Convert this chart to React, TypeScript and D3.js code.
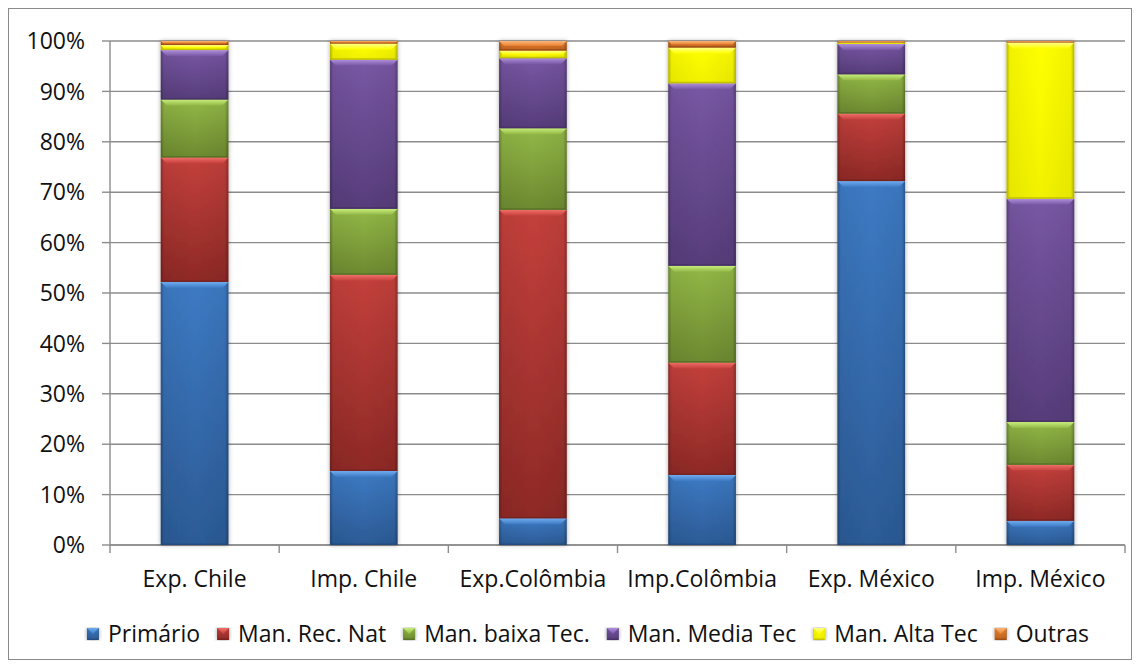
import React from "react";
import * as d3 from "d3";

// Export / import composition by technology intensity (share of total, %)
const categories = ["Exp. Chile", "Imp. Chile", "Exp.Colômbia", "Imp.Colômbia", "Exp. México", "Imp. México"];
const seriesNames = ["Primário", "Man. Rec. Nat", "Man. baixa Tec.", "Man. Media Tec", "Man. Alta Tec", "Outras"];

const primario = [52.2, 14.7, 5.3, 13.9, 72.2, 4.8];
const recNat = [24.7, 38.9, 61.2, 22.3, 13.4, 11.1];
const baixaTec = [11.5, 13.1, 16.2, 19.2, 7.8, 8.5];
const mediaTec = [9.8, 29.6, 13.9, 36.2, 6.0, 44.3];
const altaTec = [1.0, 3.2, 1.5, 7.1, 0.3, 31.0];
const outras = [0.8, 0.5, 1.9, 1.3, 0.3, 0.3];

const seriesValues = [primario, recNat, baixaTec, mediaTec, altaTec, outras];
const yTicks = [0, 10, 20, 30, 40, 50, 60, 70, 80, 90, 100];

const palette = [
  { top: "#3d7ac4", bottom: "#2c5b96", light: "#70acef", edge: "#24497a" },
  { top: "#c4403c", bottom: "#8e2926", light: "#f26e69", edge: "#73201e" },
  { top: "#93b847", bottom: "#6d8a30", light: "#c8ee7a", edge: "#566d25" },
  { top: "#7857a4", bottom: "#573d7b", light: "#ae8fdc", edge: "#452f63" },
  { top: "#ffff00", bottom: "#f2f200", light: "#ffff8a", edge: "#b8b800" },
  { top: "#ec8434", bottom: "#c0621c", light: "#fab577", edge: "#9a4c12" },
];

const W = 1140;
const H = 668;
const plot = { left: 110, right: 1125, top: 41, bottom: 545 };
const FONT = "'Open Sans', 'Noto Sans', sans-serif";
const FS = 23;

function measure(text: string, size: number) {
  const canvas = document.createElement("canvas");
  const ctx = canvas.getContext("2d");
  if (!ctx) return text.length * size * 0.5;
  ctx.font = `${size}px 'Open Sans'`;
  return ctx.measureText(text).width;
}

function BevelRect({ x, y, w, h, si, bevel = 6 }: { x: number; y: number; w: number; h: number; si: number; bevel?: number }) {
  const c = palette[si];
  if (h <= 0) return null;
  const b = Math.min(bevel, h / 2, w / 2);
  const e = Math.min(1.5, h / 4);
  return (
    <g>
      <rect x={x} y={y} width={w} height={h} fill={`url(#body-${si})`} />
      <rect x={x} y={y} width={w} height={h} fill="url(#sideShade)" />
      <polygon points={`${x},${y} ${x + w},${y} ${x + w - b},${y + b} ${x + b},${y + b}`} fill={`url(#bevel-${si})`} />
      <polygon
        points={`${x},${y + h} ${x + w},${y + h} ${x + w - e},${y + h - e} ${x + e},${y + h - e}`}
        fill={c.edge}
        opacity={0.8}
      />
    </g>
  );
}

export default function App() {
  const rows = categories.map((cat, i) => {
    const r: Record<string, number | string> = { cat };
    seriesNames.forEach((s, k) => (r[s] = seriesValues[k][i]));
    return r;
  });
  const stacked = d3.stack<Record<string, number | string>>().keys(seriesNames)(rows as any);

  const x = d3
    .scaleBand<string>()
    .domain(categories)
    .range([plot.left, plot.right])
    .paddingInner(0.6)
    .paddingOuter(0.3);
  const y = d3.scaleLinear().domain([0, 100]).range([plot.bottom, plot.top]);
  const step = (plot.right - plot.left) / categories.length;

  // Legend layout
  const sq = 12;
  const sqGap = 9;
  const itemGap = 17;
  const widths = seriesNames.map((s) => measure(s, FS));
  const itemW = widths.map((tw) => sq + sqGap + tw);
  const total = d3.sum(itemW) + itemGap * (seriesNames.length - 1);
  const legendCenter = 588;
  let cursor = legendCenter - total / 2;
  const legendX = itemW.map((w) => {
    const p = cursor;
    cursor += w + itemGap;
    return p;
  });
  const legendBaseline = 642;

  return (
    <svg
      width={W}
      height={H}
      style={{ position: "absolute", left: 0, top: 0, display: "block" }}
      fontFamily={FONT}
    >
      <defs>
        {palette.map((c, i) => (
          <React.Fragment key={i}>
            <linearGradient id={`body-${i}`} x1="0" y1="0" x2="0" y2="1">
              <stop offset="0" stopColor={c.top} />
              <stop offset="1" stopColor={c.bottom} />
            </linearGradient>
            <linearGradient id={`bevel-${i}`} x1="0" y1="0" x2="0" y2="1">
              <stop offset="0" stopColor={c.light} />
              <stop offset="1" stopColor={c.top} />
            </linearGradient>
          </React.Fragment>
        ))}
        <linearGradient id="sideShade" x1="0" y1="0" x2="1" y2="0">
          <stop offset="0" stopColor="#000" stopOpacity={0.28} />
          <stop offset="0.05" stopColor="#000" stopOpacity={0.05} />
          <stop offset="0.5" stopColor="#000" stopOpacity={0} />
          <stop offset="0.95" stopColor="#000" stopOpacity={0.05} />
          <stop offset="1" stopColor="#000" stopOpacity={0.3} />
        </linearGradient>
        <filter id="barShadow" x="-20%" y="-5%" width="140%" height="110%">
          <feDropShadow dx="0" dy="0" stdDeviation="2.2" floodColor="#000" floodOpacity="0.35" />
        </filter>
      </defs>

      <rect x={0} y={0} width={W} height={H} fill="#fff" />
      <rect x={8.5} y={8.5} width={1123} height={651} fill="#fff" stroke="#8a8a8a" strokeWidth={1} />

      {/* gridlines */}
      {yTicks.map((t) => (
        <line key={t} x1={plot.left} x2={plot.right} y1={y(t)} y2={y(t)} stroke="#8c8c8c" strokeWidth={1.4} />
      ))}

      {/* y axis */}
      <line x1={plot.left} x2={plot.left} y1={plot.top} y2={plot.bottom} stroke="#8c8c8c" strokeWidth={1.4} />
      {yTicks.map((t) => (
        <g key={t}>
          <line x1={plot.left - 8} x2={plot.left} y1={y(t)} y2={y(t)} stroke="#8c8c8c" strokeWidth={1.4} />
          <text x={85} y={y(t)} dy="0.36em" textAnchor="end" fontSize={FS} fill="#111">
            {`${t}%`}
          </text>
        </g>
      ))}

      {/* x axis */}
      <line x1={plot.left} x2={plot.right} y1={plot.bottom} y2={plot.bottom} stroke="#8c8c8c" strokeWidth={1.4} />
      {d3.range(categories.length + 1).map((k) => (
        <line
          key={k}
          x1={plot.left + k * step}
          x2={plot.left + k * step}
          y1={plot.bottom}
          y2={plot.bottom + 8}
          stroke="#8c8c8c"
          strokeWidth={1.4}
        />
      ))}
      {categories.map((c) => (
        <text key={c} x={(x(c) as number) + x.bandwidth() / 2} y={587} textAnchor="middle" fontSize={FS} fill="#111">
          {c}
        </text>
      ))}

      {/* stacked bars */}
      {categories.map((c, ci) => (
        <g key={c} filter="url(#barShadow)">
          {stacked.map((layer, si) => {
            const d = layer[ci];
            const y0 = y(d[1]);
            const y1 = y(d[0]);
            return <BevelRect key={si} x={x(c) as number} y={y0} w={x.bandwidth()} h={y1 - y0} si={si} />;
          })}
        </g>
      ))}

      {/* legend */}
      {seriesNames.map((s, i) => (
        <g key={s}>
          <g filter="url(#barShadow)">
            <BevelRect x={legendX[i]} y={legendBaseline - 14} w={sq} h={sq} si={i} bevel={6} />
          </g>
          <text x={legendX[i] + sq + sqGap} y={legendBaseline} fontSize={FS} fill="#111">
            {s}
          </text>
        </g>
      ))}
    </svg>
  );
}
